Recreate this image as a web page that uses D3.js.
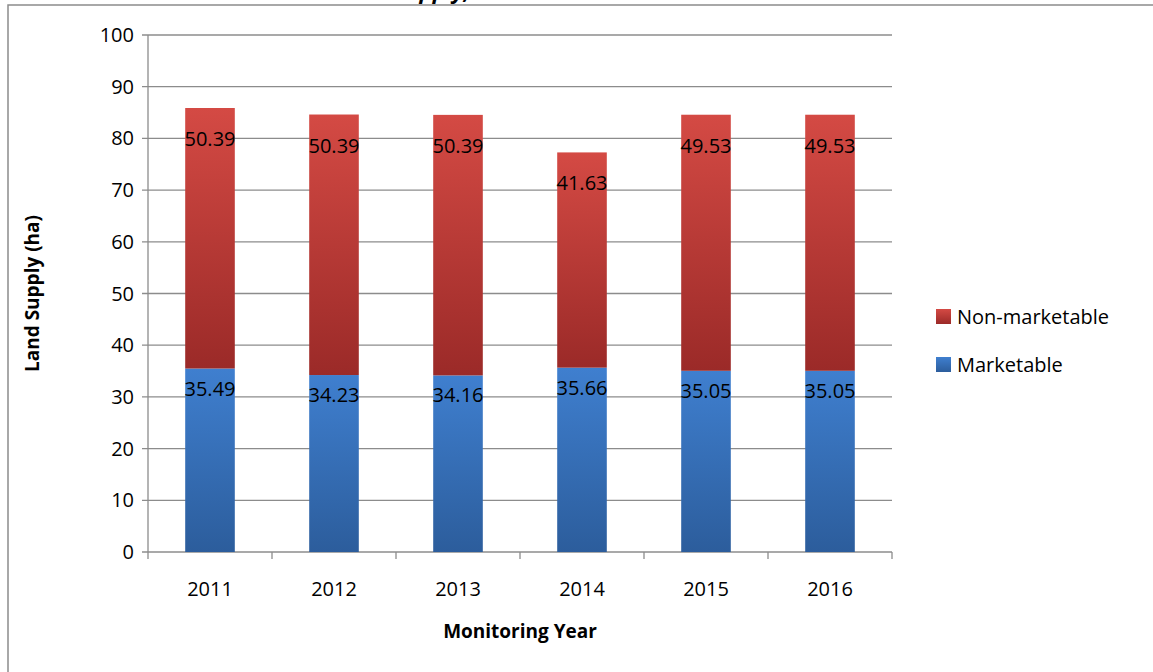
<!DOCTYPE html>
<html><head><meta charset="utf-8">
<script src="https://cdn.jsdelivr.net/npm/d3@7"></script>
<style>body{margin:0;background:#fff}text{font-family:"Open Sans",sans-serif}</style>
</head><body>
<svg id="c" width="1153" height="672"></svg>
<script>
var years = ["2011", "2012", "2013", "2014", "2015", "2016"];
var marketable = [35.49, 34.23, 34.16, 35.66, 35.05, 35.05];
var nonMarketable = [50.39, 50.39, 50.39, 41.63, 49.53, 49.53];
var yTicks = [0, 10, 20, 30, 40, 50, 60, 70, 80, 90, 100];

var svg = d3.select("#c");
var defs = svg.append("defs");
function grad(id, c1, c2) {
    var gr = defs.append("linearGradient").attr("id", id).attr("x1", 0).attr("y1", 0).attr("x2", 0).attr("y2", 1);
    gr.append("stop").attr("offset", 0).attr("stop-color", c1);
    gr.append("stop").attr("offset", 1).attr("stop-color", c2);
}
grad("gBlue", "#3f7fcf", "#2c5d9c");
grad("gRed", "#d44a44", "#9b2a28");

svg.append("rect").attr("x", 8).attr("y", 5).attr("width", 1160).attr("height", 680)
    .attr("fill", "none").attr("stroke", "#8c8c8c").attr("stroke-width", 1.5);
svg.append("text").attr("x", 470).attr("y", -1).attr("text-anchor", "end")
    .attr("font-size", 22).attr("font-weight", "bold").attr("font-style", "italic").text("Land Supply,");

var pLeft = 148, pRight = 892, pTop = 35, pBottom = 552;
var x = d3.scaleBand().domain(years).range([pLeft, pRight]).paddingInner(0.6).paddingOuter(0.3);
var y = d3.scaleLinear().domain([0, 100]).range([pBottom, pTop]);
var g = svg.append("g");

g.selectAll(".grid").data(yTicks).enter().append("line")
    .attr("x1", pLeft - 6).attr("x2", pRight).attr("y1", y).attr("y2", y)
    .attr("stroke", "#8c8c8c").attr("stroke-width", 1.3);
g.append("line").attr("x1", pLeft).attr("x2", pLeft).attr("y1", pTop).attr("y2", pBottom)
    .attr("stroke", "#8c8c8c").attr("stroke-width", 1.3);
var step = (pRight - pLeft) / years.length;
d3.range(years.length + 1).forEach(function(i) {
    g.append("line").attr("x1", pLeft + i * step).attr("x2", pLeft + i * step)
        .attr("y1", pBottom).attr("y2", pBottom + 7).attr("stroke", "#8c8c8c").attr("stroke-width", 1.3);
});
g.selectAll(".yl").data(yTicks).enter().append("text")
    .attr("x", pLeft - 14).attr("y", function(d) { return y(d) + 7; })
    .attr("text-anchor", "end").attr("font-size", 20).text(function(d) { return d; });
g.selectAll(".xl").data(years).enter().append("text")
    .attr("x", function(d) { return x(d) + x.bandwidth() / 2; }).attr("y", 596)
    .attr("text-anchor", "middle").attr("font-size", 20).text(function(d) { return d; });

years.forEach(function(yr, i) {
    var m = marketable[i], n = nonMarketable[i];
    g.append("rect").attr("x", x(yr)).attr("width", x.bandwidth())
        .attr("y", y(m)).attr("height", y(0) - y(m)).attr("fill", "url(#gBlue)");
    g.append("rect").attr("x", x(yr)).attr("width", x.bandwidth())
        .attr("y", y(m + n)).attr("height", y(m) - y(m + n)).attr("fill", "url(#gRed)");
    var cx = x(yr) + x.bandwidth() / 2;
    g.append("text").attr("x", cx).attr("y", y(m) + 27).attr("text-anchor", "middle")
        .attr("font-size", 20).text(m.toFixed(2));
    g.append("text").attr("x", cx).attr("y", y(m + n) + 38).attr("text-anchor", "middle")
        .attr("font-size", 20).text(n.toFixed(2));
});

svg.append("text").attr("transform", "translate(39," + ((pTop + pBottom) / 2) + ") rotate(-90)")
    .attr("text-anchor", "middle").attr("font-size", 19).attr("font-weight", "bold").text("Land Supply (ha)");
svg.append("text").attr("x", (pLeft + pRight) / 2).attr("y", 638).attr("text-anchor", "middle")
    .attr("font-size", 19).attr("font-weight", "bold").text("Monitoring Year");

var legend = [["Non-marketable", "url(#gRed)"], ["Marketable", "url(#gBlue)"]];
legend.forEach(function(d, i) {
    var ly = 317 + i * 48;
    svg.append("rect").attr("x", 936).attr("y", ly - 8).attr("width", 15).attr("height", 15).attr("fill", d[1]);
    svg.append("text").attr("x", 957).attr("y", ly + 7).attr("font-size", 20).text(d[0]);
});
</script>
</body></html>
